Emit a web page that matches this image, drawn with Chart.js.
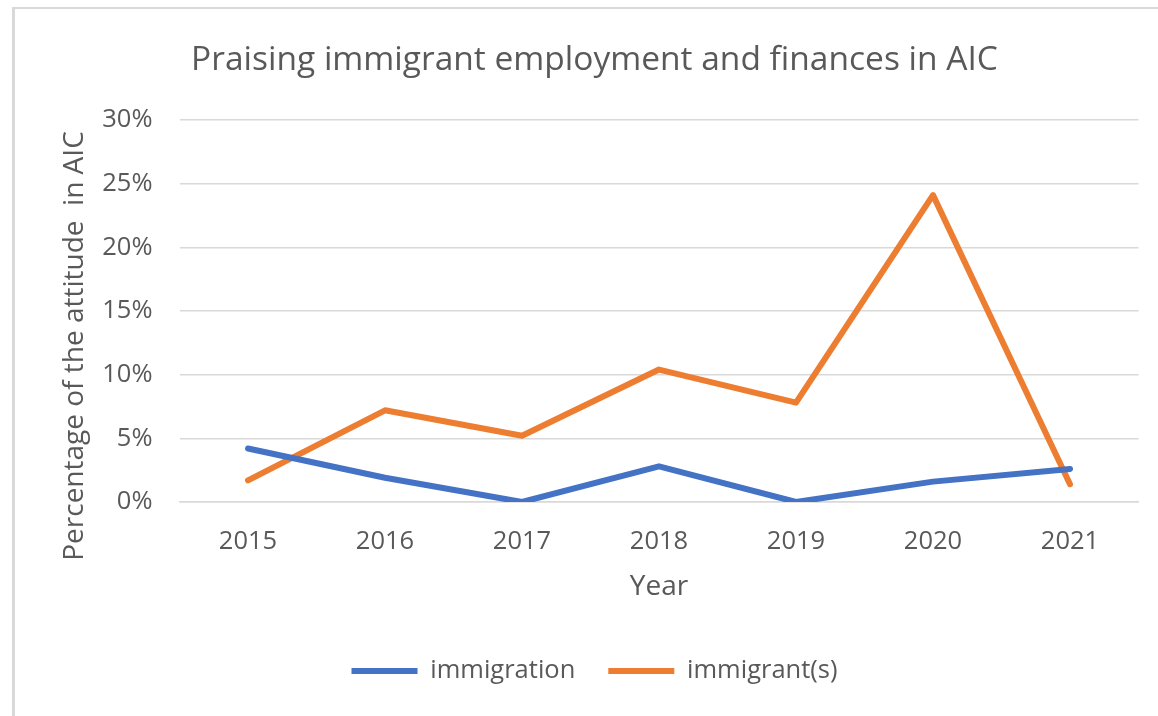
<!DOCTYPE html>
<html>
<head>
<meta charset="utf-8">
<title>Praising immigrant employment and finances in AIC</title>
<script src="https://cdn.jsdelivr.net/npm/chart.js@4.4.1/dist/chart.umd.min.js"></script>
<style>
  html, body { margin: 0; padding: 0; background: #ffffff; overflow: hidden; }
  #frame {
    position: absolute; left: 12px; top: 7px; width: 1300px; height: 800px;
    border-left: 3px solid #d9d9d9; border-top: 2px solid #d9d9d9;
  }
  #wrap { position: absolute; left: 0; top: 0; width: 1158px; height: 716px; }
</style>
</head>
<body>
<div id="frame"></div>
<div id="wrap"><canvas id="chart"></canvas></div>
<script>
// Years on the horizontal axis
const years = ['2015', '2016', '2017', '2018', '2019', '2020', '2021'];
// Share of texts (in %) with the attitude, per keyword
const immigration = [4.2, 1.9, 0, 2.8, 0, 1.6, 2.6];
const immigrants = [1.7, 7.2, 5.2, 10.4, 7.8, 24.1, 1.4];
// Percentage axis
const yMin = 0;
const yMax = 30;
const yStep = 5;

const chartTitle = 'Praising immigrant employment and finances in AIC';
const xTitle = 'Year';
const yTitle = 'Percentage of the attitude  in AIC';

const textGrey = '#595959';
const gridGrey = '#d9d9d9';
const family = "'Open Sans', 'Noto Sans', sans-serif";

Chart.defaults.font.family = family;
Chart.defaults.color = textGrey;

// Rotated value-axis title, centred on the plot plus tick area
const yTitlePlugin = {
  id: 'yTitle',
  afterDraw(chart) {
    const ctx = chart.ctx;
    ctx.save();
    ctx.translate(75, 346);
    ctx.rotate(-Math.PI / 2);
    ctx.font = "28px " + family;
    ctx.fillStyle = textGrey;
    ctx.textAlign = 'center';
    ctx.textBaseline = 'middle';
    ctx.fillText(yTitle, 0, 0);
    ctx.restore();
  }
};

new Chart(document.getElementById('chart'), {
  type: 'line',
  data: {
    labels: years,
    datasets: [
      {
        label: 'immigration',
        data: immigration,
        borderColor: '#4472C4',
        backgroundColor: '#4472C4',
        borderWidth: 6,
        borderCapStyle: 'round',
        borderJoinStyle: 'round',
        pointRadius: 0,
        tension: 0
      },
      {
        label: 'immigrant(s)',
        data: immigrants,
        borderColor: '#ED7D31',
        backgroundColor: '#ED7D31',
        borderWidth: 6,
        borderCapStyle: 'round',
        borderJoinStyle: 'round',
        pointRadius: 0,
        tension: 0
      }
    ]
  },
  options: {
    responsive: true,
    maintainAspectRatio: false,
    animation: false,
    devicePixelRatio: 1,
    layout: { padding: { left: 31, right: 0, top: 0, bottom: 22.25 } },
    plugins: {
      title: {
        display: true,
        text: chartTitle,
        color: textGrey,
        font: { family: family, size: 33.5, weight: 'normal' },
        padding: { top: 40, bottom: 39.8 }
      },
      legend: {
        position: 'bottom',
        labels: {
          usePointStyle: true,
          pointStyle: 'line',
          pointStyleWidth: 66,
          color: textGrey,
          font: { family: family, size: 25.5 },
          padding: 33
        }
      },
      tooltip: { enabled: false }
    },
    scales: {
      x: {
        type: 'category',
        offset: true,
        grid: { display: false, drawTicks: false },
        border: { display: true, color: gridGrey, width: 1.5 },
        ticks: { color: textGrey, font: { size: 25.5 }, padding: 24 },
        title: {
          display: true,
          text: xTitle,
          color: textGrey,
          font: { size: 28 },
          padding: { top: 0, bottom: 21.5 }
        },
        afterFit(scale) { scale.height = 123.25; }
      },
      y: {
        min: yMin,
        max: yMax,
        grid: { color: gridGrey, lineWidth: 1.5, drawTicks: false },
        border: { display: false },
        ticks: {
          stepSize: yStep,
          color: textGrey,
          font: { size: 25.5 },
          padding: 27,
          callback: (v) => v + '%'
        },
        afterFit(scale) { scale.width = 148.5; }
      },
      yRight: {
        type: 'linear',
        position: 'right',
        display: true,
        grid: { display: false, drawTicks: false },
        border: { display: false },
        ticks: { display: false },
        afterFit(scale) { scale.width = 19.5; }
      }
    }
  },
  plugins: [yTitlePlugin]
});
</script>
</body>
</html>
